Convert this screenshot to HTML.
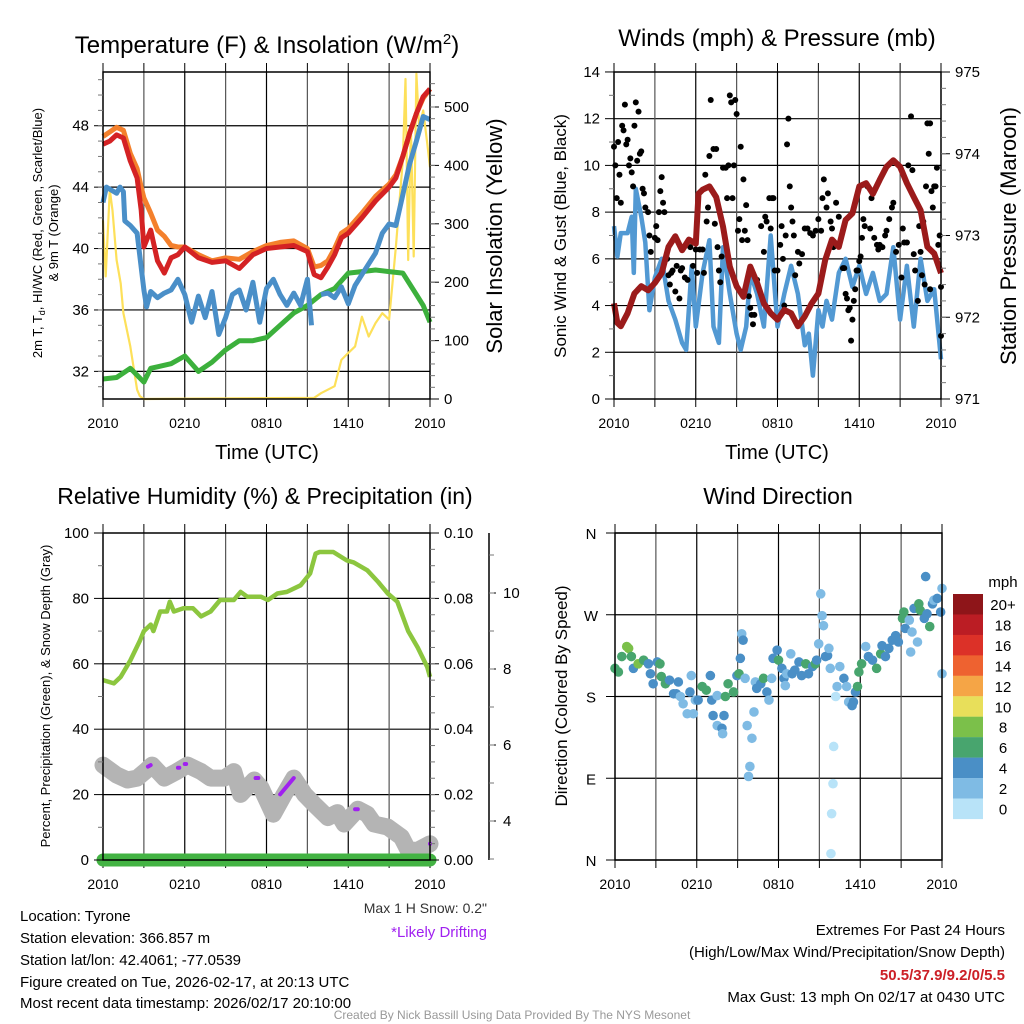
<!DOCTYPE html>
<html><head><meta charset="utf-8"><style>
html,body{margin:0;padding:0;background:#fff;}
svg{display:block;font-family:"Liberation Sans",sans-serif;}
</style></head><body>
<svg id="fig" width="1024" height="1024" viewBox="0 0 1024 1024" xmlns="http://www.w3.org/2000/svg">
<rect x="0" y="0" width="1024" height="1024" fill="#fff"/>
<text x="267" y="53" font-size="24" text-anchor="middle">Temperature (F) &amp; Insolation (W/m<tspan dy="-9" font-size="15">2</tspan><tspan dy="9">)</tspan></text>
<text x="777" y="46" font-size="24" text-anchor="middle">Winds (mph) &amp; Pressure (mb)</text>
<text x="265" y="504" font-size="23" text-anchor="middle">Relative Humidity (%) &amp; Precipitation (in)</text>
<text x="778" y="504" font-size="23" text-anchor="middle">Wind Direction</text>
<text x="267" y="459" font-size="20" text-anchor="middle">Time (UTC)</text>
<text x="777" y="459" font-size="20" text-anchor="middle">Time (UTC)</text>
<g transform="translate(42,233) rotate(-90)">
<text x="0" y="0" font-size="13" text-anchor="middle">2m T, T<tspan dy="3" font-size="9">d</tspan><tspan dy="-3">, HI/WC (Red, Green, Scarlet/Blue)</tspan></text>
<text x="0" y="16" font-size="13" text-anchor="middle">&amp; 9m T (Orange)</text>
</g>
<text transform="translate(502,236) rotate(-90)" font-size="22" text-anchor="middle">Solar Insolation (Yellow)</text>
<text transform="translate(566,236) rotate(-90)" font-size="17" text-anchor="middle">Sonic Wind &amp; Gust (Blue, Black)</text>
<text transform="translate(1016,236) rotate(-90)" font-size="22" text-anchor="middle">Station Pressure (Maroon)</text>
<text transform="translate(50,696) rotate(-90)" font-size="13" text-anchor="middle">Percent, Precipitation (Green), &amp; Snow Depth (Gray)</text>
<text transform="translate(567,696) rotate(-90)" font-size="17" text-anchor="middle">Direction (Colored By Speed)</text>
<text x="1003" y="587" font-size="15" text-anchor="middle">mph</text>
<text x="487" y="913" font-size="14" fill="#333" text-anchor="end">Max 1 H Snow: 0.2"</text>
<text x="487" y="937" font-size="15" fill="#a020f0" text-anchor="end">*Likely Drifting</text>
<g font-size="15">
<text x="20" y="921">Location: Tyrone</text>
<text x="20" y="943">Station elevation: 366.857 m</text>
<text x="20" y="965">Station lat/lon: 42.4061; -77.0539</text>
<text x="20" y="987">Figure created on Tue, 2026-02-17, at 20:13 UTC</text>
<text x="20" y="1008">Most recent data timestamp: 2026/02/17 20:10:00</text>
</g>
<g font-size="15" text-anchor="end">
<text x="1005" y="935">Extremes For Past 24 Hours</text>
<text x="1005" y="957">(High/Low/Max Wind/Precipitation/Snow Depth)</text>
<text x="1005" y="980" fill="#cc1f26" font-weight="bold">50.5/37.9/9.2/0/5.5</text>
<text x="1005" y="1002">Max Gust: 13 mph On 02/17 at 0430 UTC</text>
</g>
<text x="512" y="1019" font-size="12" fill="#999" text-anchor="middle">Created By Nick Bassill Using Data Provided By The NYS Mesonet</text>
<g id="charts"></g>
</svg>
<script>
// ---- data (t in hours after 2010 UTC) ----
const tempT=[0,0.5,1,1.5,2,2.5,2.8,3,3.5,4,4.5,5,5.5,6,7,8,9,10,11,12,13,14,15,15.5,16,16.5,17,17.5,18,19,20,21,21.5,22,22.5,23,23.5,24];
const tempRed=[46.8,47.0,47.4,47.2,45.7,44.6,42.5,40.1,41.2,39.2,38.4,39.4,39.6,40.1,39.4,39.1,39.2,38.7,39.6,40.0,40.1,40.2,39.8,38.3,38.1,38.8,39.6,40.7,41.0,42.0,43.1,44.0,44.6,46.0,47.5,48.8,49.9,50.4];
const tempOrange=[47.3,47.6,47.9,47.7,46.2,45.2,44.0,43.3,42.3,41.2,40.8,40.2,40.1,40.1,39.6,39.2,39.4,39.3,39.8,40.2,40.4,40.5,40.0,38.8,38.9,39.2,40.0,41.0,41.3,42.3,43.4,44.2,44.8,46.0,47.5,48.8,49.8,50.4];
const wcT=[0,0.25,1,1.25,1.5,1.6,2,2.5,3,3.2,3.5,4,4.5,5,5.5,6,6.5,7,7.5,8,8.5,9,9.5,10,10.5,11,11.5,12,12.5,13,13.5,14,14.5,15,15.3,15.5,16,16.5,17,17.5,18,18.5,19,20,20.5,21,21.5,22,22.5,23,23.5,24];
const wcBlue=[43.0,44.0,43.6,44.0,43.7,41.8,41.5,41.0,37.3,36.2,37.2,36.8,37.1,37.3,38.0,37.0,35.2,36.9,35.5,37.2,34.4,35.5,37.0,37.3,36.0,37.8,35.2,37.4,38.0,37.0,36.3,37.1,36.3,38.0,35.0,null,37.0,37.1,36.8,37.5,36.4,37.6,38.3,39.7,41.0,41.6,41.5,43.5,45.5,47.0,48.6,48.4];
const dewT=[0,1,2,3,3.5,4,5,6,7,8,9,10,11,12,13,14,15,16,17,18,19,20,21,22,23,23.5,24];
const dewGreen=[31.5,31.6,32.2,31.3,32.2,32.3,32.5,33.0,32.0,32.6,33.4,34.0,34.0,34.2,35.0,35.8,36.3,37.0,37.4,38.4,38.5,38.6,38.5,38.4,37.0,36.3,35.2];
const solT=[0,0.2,0.5,0.7,1,1.3,1.5,2,2.5,2.7,3,15.5,16,17,17.5,18,18.5,19,19.5,20,20.5,21,21.5,22,22.2,22.4,22.6,22.8,23,23.2,23.5,23.8,24];
const solYellow=[306,210,358,323,238,198,147,90,16,5,0,2,10,22,67,79,90,141,107,130,147,136,261,409,548,238,466,244,557,466,494,437,397];
const presT=[0,0.25,0.5,1,1.5,2,2.5,3,3.5,4,4.5,5,5.5,6,6.2,6.5,7,7.5,8,8.5,9,9.5,10,10.5,11,11.5,12,12.5,13,13.5,14,14.5,15,15.5,16,16.5,17,17.5,18,18.5,19,19.5,20,20.5,21,21.5,22,22.5,23,23.5,24];
const presMb=[972.17,971.93,971.89,972.05,972.29,972.38,972.33,972.42,972.54,972.86,972.99,972.82,972.95,972.90,973.51,973.56,973.60,973.47,973.11,972.62,972.38,972.25,972.62,972.42,972.17,972.05,971.97,972.09,972.05,971.89,972.01,972.17,972.29,972.70,972.95,972.86,973.19,973.27,973.60,973.64,973.51,973.68,973.84,973.92,973.84,973.64,973.47,973.31,972.86,972.78,972.54];
const windT=[0,0.25,0.5,1,1.3,1.45,1.6,2,2.3,2.6,3,3.5,4,4.5,5,5.3,5.7,6,6.5,7,7.3,7.7,8,8.5,9,9.3,9.7,10,10.5,11,11.5,12,12.5,13,13.5,14,14.3,14.6,15,15.3,15.6,16,16.5,17,17.5,18,18.5,19,19.5,20,20.5,21,21.5,22,22.5,23,23.5,24];
const windMph=[7.4,6.1,7.1,7.1,7.8,5.4,9.0,7.8,6.7,3.8,5.2,6.0,4.2,3.4,2.4,2.1,5.7,3.1,5.4,6.8,3.1,2.4,6.5,4.5,2.8,2.1,3.1,5.4,4.5,3.1,7.0,3.1,4.5,5.7,4.5,2.3,2.8,1.0,3.8,3.1,4.2,3.4,5.4,6.0,4.8,5.7,4.5,5.4,4.2,4.5,6.5,3.4,5.7,3.1,6.0,4.2,4.7,1.7];
const gustT=[0,0.1,0.2,0.3,0.4,0.5,0.6,0.7,0.8,0.9,1.0,1.1,1.2,1.3,1.4,1.5,1.6,1.7,1.8,1.9,2.0,2.1,2.2,2.3,2.5,2.6,2.7,3.0,3.1,3.2,3.3,3.4,3.5,3.6,3.7,3.9,4.0,4.1,4.2,4.3,4.5,4.6,4.8,4.9,5.0,5.2,5.4,5.6,5.8,6.0,6.1,6.3,6.5,6.6,6.7,6.8,6.9,7.0,7.1,7.3,7.5,7.4,7.6,7.7,7.8,7.9,8.0,8.2,8.3,8.4,8.5,8.6,8.7,8.8,8.9,9.0,9.1,9.2,9.3,9.4,9.5,9.6,9.7,9.8,9.9,10.0,10.1,10.2,10.3,10.5,10.8,11.0,11.1,11.2,11.4,11.5,11.6,11.7,11.8,12.0,12.2,12.3,12.4,12.5,12.6,12.7,12.8,12.9,13.0,13.1,13.2,13.3,13.5,13.6,13.8,14.0,14.2,14.4,14.6,14.8,15.0,15.2,15.3,15.4,15.6,15.7,15.9,16.0,16.1,16.3,16.5,16.8,16.9,17.0,17.1,17.2,17.3,17.4,17.5,17.6,17.7,17.8,17.9,18.0,18.1,18.2,18.3,18.4,18.6,18.8,18.9,19.1,19.3,19.4,19.5,19.7,19.9,20.0,20.2,20.4,20.5,20.7,20.9,21.1,21.2,21.3,21.5,21.6,21.8,21.9,22.0,22.1,22.3,22.4,22.5,22.7,22.8,22.9,23.0,23.1,23.2,23.3,23.4,23.5,23.6,23.7,23.8,23.9,24.0,24.0,23.2,22.6];
const gustMph=[10.8,10.0,8.6,11.0,9.6,8.4,11.7,11.5,12.6,10.9,11.1,10.0,10.3,9.7,9.1,11.7,12.7,10.2,12.3,10.5,10.6,9.0,8.8,8.2,8.0,7.0,6.3,6.9,7.4,6.8,8.0,8.9,9.5,8.4,8.0,6.0,5.3,4.9,5.4,5.5,4.6,5.7,4.3,5.5,5.6,5.2,5.1,6.5,5.7,6.4,5.4,6.4,6.4,5.4,9.6,7.6,8.2,10.4,12.8,10.7,10.7,7.5,6.5,5.5,5.0,6.1,9.9,9.9,8.6,10.0,13.0,12.7,8.6,10.0,12.8,12.2,7.2,7.7,10.8,6.8,9.4,7.2,8.3,6.8,4.4,3.9,3.6,3.2,3.6,5.1,7.4,6.3,7.8,7.6,8.6,7.3,8.6,8.6,5.5,5.5,6.6,7.4,6.0,4.0,7.0,10.9,12.0,9.1,8.2,7.6,7.0,5.3,6.3,5.8,6.2,7.3,7.3,7.1,7.0,7.2,7.7,7.2,8.6,9.4,8.2,8.8,7.6,7.3,6.5,8.4,7.8,5.6,5.6,4.5,4.3,3.8,3.9,2.5,3.4,4.2,4.7,5.5,5.5,5.9,6.1,6.9,7.7,7.4,9.1,7.3,8.6,6.9,6.6,6.4,6.6,6.5,7.0,7.2,7.7,8.2,8.4,6.3,6.6,5.2,7.3,6.7,6.7,10.0,12.1,9.8,6.2,5.5,4.2,7.4,6.3,7.6,4.9,9.1,11.8,10.5,11.8,8.9,8.2,9.1,9.1,9.9,6.6,7.0,4.8,2.7,4.7,5.3];
const rhT=[0,0.8,1.3,2.0,2.7,3.0,3.5,3.7,4.2,4.7,4.9,5.2,5.9,6.6,7.2,7.9,8.6,9.6,10.1,10.6,11.6,12.1,12.8,13.5,14.5,15.2,15.6,15.9,16.9,17.9,18.4,19.4,20.2,20.9,21.6,22.4,23.1,23.8,24];
const rhPct=[55,54,56,61,67,70,72,70,76,76,79,76,77,77,74.5,76,79.5,79.5,82,80.5,80.5,79.5,81.5,82,84,87.6,93.7,94.2,94.2,91.6,91,88.6,85,81.5,79,70,65,59,56];
const precipT=[0,24];
const precipIn=[0,0];
const snowT=[0,1.0,1.8,2.5,3.2,3.6,4.5,5.4,6.2,7.2,7.9,8.9,9.6,10.1,11.1,11.6,12.5,13.3,14.0,14.8,15.5,16.5,17.2,17.7,18.7,19.4,19.9,20.9,21.9,22.4,23.1,24];
const snowIn=[5.47,5.21,5.08,5.13,5.34,5.47,5.13,5.30,5.47,5.30,5.13,5.13,5.30,4.70,5.08,4.87,4.18,4.70,5.13,4.70,4.44,4.09,4.22,3.92,4.31,4.18,3.92,3.84,3.58,3.23,3.23,3.40];
const driftT=[[3.3,3.5],[5.5,5.6],[6.0,6.1],[11.2,11.4],[13.0,14.0],[18.5,18.7],[24,24]];
const driftIn=[[5.43,5.47],[5.40,5.40],[5.50,5.50],[5.13,5.13],[4.70,5.13],[4.31,4.31],[3.40,3.40]];
const dirT=[0,0.25,0.5,0.86,1.0,1.2,1.35,1.7,2.1,2.45,2.6,2.8,3.1,3.3,3.4,3.7,4.0,4.3,4.5,4.65,4.8,5.0,5.3,5.5,5.6,5.75,5.9,6.1,6.4,6.7,7.0,7.1,7.2,7.5,7.5,7.85,7.9,8.0,8.1,8.3,8.7,8.95,9.1,9.2,9.3,9.4,9.55,9.7,9.8,9.9,10.05,10.2,10.3,10.4,10.7,10.9,11.15,11.3,11.5,11.6,11.9,12.0,12.25,12.4,12.5,12.6,12.9,13.0,13.2,13.5,13.7,14.0,14.2,14.5,14.7,14.8,14.95,15.1,15.2,15.3,15.45,15.6,15.7,15.8,16.2,16.05,16.0,15.9,15.85,16.3,16.5,16.8,17.0,17.15,17.4,17.5,17.65,17.8,17.9,18.1,18.4,18.6,18.9,19.2,19.5,19.6,19.85,20.1,20.35,20.6,20.8,21.1,21.2,21.3,21.6,21.7,21.8,21.95,22.2,22.3,22.4,22.7,22.8,22.9,23.1,23.3,23.4,23.65,23.9,24.0,24.0];
const dirDeg=[211,207,224,235,233,224,211,216,220,216,205,194,218,216,202,194,198,183,183,196,180,172,161,185,203,161,176,176,191,187,203,176,159,148,181,145,139,159,180,194,185,203,205,222,249,242,200,148,92,103,134,163,196,189,194,200,185,176,200,222,231,220,211,200,192,205,227,205,209,218,203,216,205,213,216,220,238,293,269,258,224,225,233,211,180,125,84,51,7,191,213,200,191,174,170,174,185,191,207,216,235,224,220,211,227,236,224,233,242,247,240,266,273,255,264,229,251,277,240,282,275,266,312,271,257,282,286,288,273,299,205];
const dirSpeed=[7,6,7,8,8,6,4,8,7,4,4,4,4,6,6,6,4,4,4,4,2,2,2,4,2,2,2,4,6,6,4,4,4,2,2,4,2,4,6,6,6,4,6,4,2,4,2,2,2,2,2,2,2,4,4,6,4,2,2,4,4,6,4,4,2,2,2,4,4,4,4,6,4,4,6,4,2,2,2,2,4,4,2,2,1,1,1,1,1,2,2,4,2,2,4,4,4,6,6,6,2,4,4,6,6,4,4,4,4,4,4,6,6,4,2,2,2,4,2,6,6,4,4,4,6,4,2,4,4,2,2];
const speedLabels=['20+','18','16','14','12','10','8','6','4','2','0'];
const speedColors=['#8e1519','#bb1d24','#dc3128','#ee6230','#f5a546','#e8df5a','#7bc04a','#48a56e','#4a8fc6','#7fbbe4','#b8e3f8'];
const xTickLabels=['2010','0210','0810','1410','2010'];
const tempTicks=[32,36,40,44,48];
const solTicks=[0,100,200,300,400,500];
const windTicks=[0,2,4,6,8,10,12,14];
const presTicks=[971,972,973,974,975];
const rhTicks=[0,20,40,60,80,100];
const precipTicks=[0,0.02,0.04,0.06,0.08,0.10];
const snowTicks=[4,6,8,10];
const dirTicks=[0,90,180,270,360];
const dirLabels=['N','E','S','W','N'];

const NS='http://www.w3.org/2000/svg';
const root=document.getElementById('charts');
function mk(tag,attrs,name,parent){
  const el=document.createElementNS(NS,tag);
  for(const k in attrs) el.setAttribute(k,attrs[k]);
  
  
  (parent||root).appendChild(el);
  return el;
}
function txt(x,y,s,size,anchor,name,fill){
  const el=mk('text',{x:x,y:y,'font-size':size,'text-anchor':anchor,fill:fill||'#000'},name);
  el.textContent=s;return el;
}
function lineStr(ts,vs,xf,yf){
  let d='',pen=false;
  for(let i=0;i<ts.length;i++){
    if(vs[i]===null){pen=false;continue;}
    d+=(pen?'L':'M')+xf(ts[i]).toFixed(1)+','+yf(vs[i]).toFixed(1);pen=true;
  }
  return d;
}
function panel(p){
  const X=t=>p.x0+t/24*(p.x1-p.x0);
  for(let h=3;h<24;h+=3){
    mk('line',{x1:X(h),x2:X(h),y1:p.y0,y2:p.y1,stroke:(h%6==0)?'#000':'#555','stroke-width':1.2},p.id+'-vgrid');
  }
  for(let h=0;h<=24;h+=3){
    mk('line',{x1:X(h),x2:X(h),y1:p.y1,y2:p.y1+8,stroke:'#000','stroke-width':1},p.id+'-x-tick');
    mk('line',{x1:X(h),x2:X(h),y1:p.y0,y2:p.y0-9,stroke:'#000','stroke-width':1},p.id+'-x-tick-top');
  }
  xTickLabels.forEach((s,i)=>txt(X(i*6),p.y1+29,s,14,'middle',p.id+'-x-tick-label'));
  return X;
}
function hgrid(p,ticks,yf,id){
  ticks.forEach(v=>mk('line',{x1:p.x0,x2:p.x1,y1:yf(v),y2:yf(v),stroke:'#000','stroke-width':1.2},id+'-hgrid'));
}
function frame(p,id){
  mk('rect',{x:p.x0,y:p.y0,width:p.x1-p.x0,height:p.y1-p.y0,fill:'none',stroke:'#000','stroke-width':1.5},id+'-frame');
}
function yTicks(x,ticks,yf,labels,side,size,id,minor,len){
  const dir=side==='left'?-1:1;
  ticks.forEach((v,i)=>{
    mk('line',{x1:x,x2:x+dir*(len||9),y1:yf(v),y2:yf(v),stroke:'#000','stroke-width':1},id+'-tick');
    txt(x+dir*14,yf(v)+5,labels[i],size,side==='left'?'end':'start',id+'-tick-label');
  });
  if(minor) minor.forEach(v=>mk('line',{x1:x,x2:x+dir*5,y1:yf(v),y2:yf(v),stroke:'#777','stroke-width':1},id+'-minor-tick'));
}
function range(a,b,s){const r=[];for(let v=a;v<=b+1e-9;v+=s)r.push(+v.toFixed(4));return r;}

// ===== Panel 1: temperature =====
const p1={id:'temp',x0:103,x1:430,y0:72,y1:399};
const yT=v=>399-(v-30.2)/(51.5-30.2)*327;
const yS=v=>399-v*0.584;
hgrid(p1,tempTicks,yT,'temp');
const X1=panel(p1);
mk('path',{d:lineStr(solT,solYellow,X1,yS),fill:'none',stroke:'#fde05a','stroke-width':2.2,'stroke-linejoin':'round'},'insolation-line');
mk('path',{d:lineStr(dewT,dewGreen,X1,yT),fill:'none',stroke:'#3cb03c','stroke-width':5,'stroke-linejoin':'round'},'dewpoint-line');
mk('path',{d:lineStr(wcT,wcBlue,X1,yT),fill:'none',stroke:'#4a8fc8','stroke-width':5,'stroke-linejoin':'round'},'windchill-line');
mk('path',{d:lineStr(tempT,tempOrange,X1,yT),fill:'none',stroke:'#f4802c','stroke-width':5,'stroke-linejoin':'round'},'temp-9m-line');
mk('path',{d:lineStr(tempT,tempRed,X1,yT),fill:'none',stroke:'#d42224','stroke-width':5,'stroke-linejoin':'round'},'temp-2m-line');
frame(p1,'temp');
yTicks(103,tempTicks,yT,tempTicks.map(String),'left',15,'temp-y',range(31,51,1));
yTicks(430,solTicks,yS,solTicks.map(String),'right',15,'insolation-y',range(20,540,20));

// ===== Panel 2: winds =====
const p2={id:'wind',x0:614,x1:941,y0:72,y1:399};
const yW=v=>399-v*23.36;
const yP=v=>399-(v-971)*81.75;
hgrid(p2,windTicks.slice(1,-1),yW,'wind');
const X2=panel(p2);
mk('path',{d:lineStr(windT,windMph,X2,yW),fill:'none',stroke:'#5299d3','stroke-width':4.5,'stroke-linejoin':'round'},'wind-speed-line');
gustT.forEach((t,i)=>{
  mk('circle',{cx:X2(t),cy:yW(gustMph[i]),r:3,fill:'#000'},'gust-point');
});
mk('path',{d:lineStr(presT,presMb,X2,yP),fill:'none',stroke:'#9b1b1b','stroke-width':6,'stroke-linejoin':'round'},'pressure-line');
frame(p2,'wind');
yTicks(614,windTicks,yW,windTicks.map(String),'left',15,'wind-y',range(1,13,2));
yTicks(941,presTicks,yP,presTicks.map(String),'right',15,'pressure-y',range(971.2,974.8,0.2));

// ===== Panel 3: humidity =====
const p3={id:'rh',x0:103,x1:430,y0:533,y1:860};
const yR=v=>860-v*3.27;
const yPr=v=>860-v*3270;
const ySn=v=>821-(v-4)*38;
hgrid(p3,rhTicks.slice(1,-1),yR,'rh');
const X3=panel(p3);
mk('path',{d:lineStr(snowT,snowIn,X3,ySn),fill:'none',stroke:'#b4b4b4','stroke-width':17,'stroke-linejoin':'round','stroke-linecap':'round'},'snow-depth-line');
driftT.forEach((seg,i)=>{
  mk('path',{d:'M'+X3(seg[0])+','+ySn(driftIn[i][0])+'L'+X3(seg[1])+','+ySn(driftIn[i][1]),stroke:'#a020f0','stroke-width':4,'stroke-linecap':'round',fill:'none'},'drifting-mark');
});
mk('path',{d:lineStr(rhT,rhPct,X3,yR),fill:'none',stroke:'#8cc63f','stroke-width':4.5,'stroke-linejoin':'round'},'humidity-line');
mk('path',{d:lineStr(precipT,precipIn,X3,yPr),fill:'none',stroke:'#43b343','stroke-width':13,'stroke-linecap':'round'},'precipitation-line');
frame(p3,'rh');
yTicks(103,rhTicks,yR,rhTicks.map(String),'left',15,'rh-y',range(10,90,20));
yTicks(430,precipTicks,yPr,precipTicks.map(v=>v.toFixed(2)),'right',15,'precip-y',range(0.005,0.095,0.005));
mk('line',{x1:489,x2:489,y1:533,y2:860,stroke:'#000','stroke-width':1.5},'snow-axis-line');
yTicks(489,snowTicks,ySn,snowTicks.map(String),'right',15,'snow-y',range(3,11,1),7);

// ===== Panel 4: wind direction =====
const p4={id:'dir',x0:615,x1:942,y0:533,y1:860};
const yD=v=>860-v/360*327;
hgrid(p4,dirTicks,yD,'dir');
const X4=panel(p4);
dirT.forEach((t,i)=>{
  const idx=10-Math.min(10,Math.floor(dirSpeed[i]/2));
  mk('circle',{cx:X4(t),cy:yD(dirDeg[i]),r:4.8,fill:speedColors[idx]},'direction-point');
});
frame(p4,'dir');
dirTicks.forEach((v,i)=>{
  mk('line',{x1:606,x2:615,y1:yD(v),y2:yD(v),stroke:'#000','stroke-width':1},'dir-y-tick');
  txt(591,yD(v)+6,dirLabels[i],15,'middle','dir-y-tick-label');
});
speedLabels.forEach((s,i)=>{
  mk('rect',{x:953,y:594+i*20.45,width:30,height:20.6,fill:speedColors[i]},'colorbar-box');
  txt(1003,594+i*20.45+16,s,15,'middle','colorbar-label');
});
</script>
</body></html>
